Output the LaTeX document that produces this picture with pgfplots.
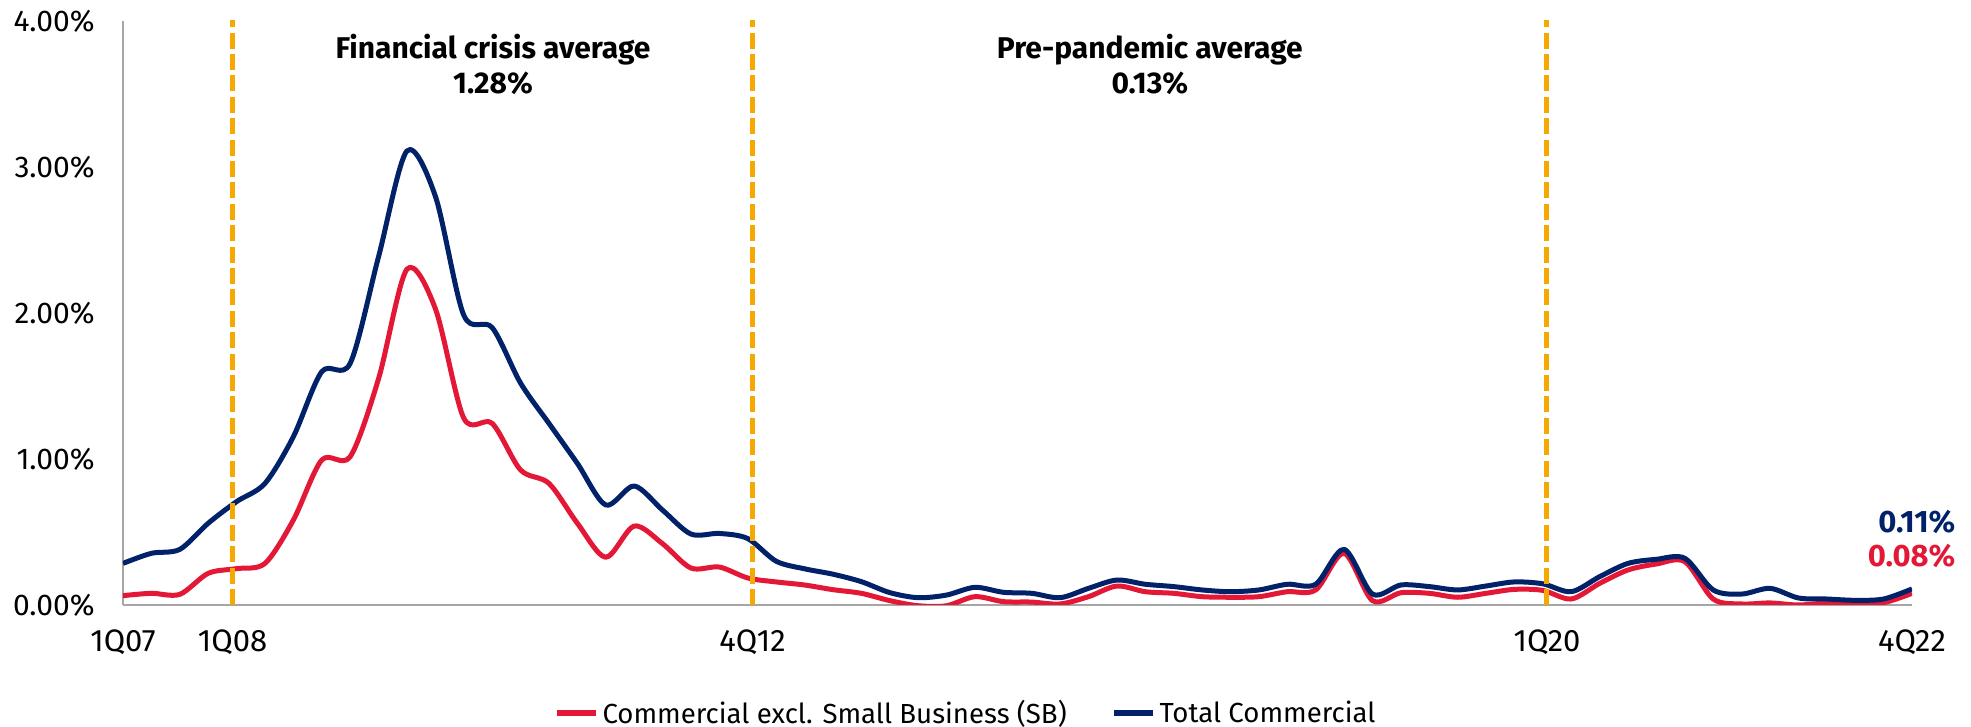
\documentclass[border=0pt]{standalone}
\usepackage{fontspec}
\setmainfont{Fira Sans}
\usepackage{pgfplots}
\pgfplotsset{compat=1.18}
\usepackage{pgfplotstable}
\definecolor{bred}{HTML}{E31837}
\definecolor{bnavy}{HTML}{012169}
\definecolor{borange}{HTML}{F5A800}
\definecolor{axisgray}{HTML}{A6A6A6}

\pgfplotstableread{
i red blue
0 0.064 0.285
1 0.080 0.354
2 0.073 0.381
3 0.217 0.560
4 0.249 0.708
5 0.285 0.833
6 0.582 1.153
7 0.993 1.598
8 1.016 1.655
9 1.550 2.386
10 2.300 3.110
11 2.030 2.800
12 1.280 1.985
13 1.244 1.900
14 0.925 1.520
15 0.833 1.244
16 0.560 0.970
17 0.327 0.685
18 0.541 0.815
19 0.420 0.650
20 0.253 0.486
21 0.260 0.490
22 0.185 0.455
23 0.158 0.300
24 0.137 0.248
25 0.105 0.211
26 0.080 0.160
27 0.030 0.085
28 -0.005 0.050
29 -0.005 0.068
30 0.057 0.121
31 0.023 0.087
32 0.020 0.080
33 0.007 0.050
34 0.057 0.114
35 0.130 0.171
36 0.091 0.142
37 0.080 0.126
38 0.057 0.103
39 0.053 0.091
40 0.057 0.103
41 0.091 0.142
42 0.103 0.142
43 0.354 0.381
44 0.030 0.075
45 0.084 0.137
46 0.080 0.126
47 0.053 0.103
48 0.080 0.130
49 0.107 0.158
50 0.100 0.145
51 0.041 0.091
52 0.148 0.194
53 0.240 0.285
54 0.281 0.313
55 0.297 0.320
56 0.041 0.103
57 0.007 0.075
58 0.014 0.114
59 0.000 0.048
60 0.014 0.041
61 0.014 0.032
62 0.016 0.041
63 0.080 0.110
}\datatable

\begin{document}
\begin{tikzpicture}
\begin{axis}[
  scale only axis,
  width=894.5pt, height=292pt,
  xmin=0, xmax=63, ymin=0, ymax=4,
  axis x line=bottom, axis y line=left,
  axis line style={draw=axisgray, line width=1pt, -},
  xtick={0,3.86,22.17,50.15,63},
  xticklabels={1Q07,1Q08,4Q12,1Q20,4Q22},
  ytick={0,1,2,3,4},
  yticklabels={0.00\%,1.00\%,2.00\%,3.00\%,4.00\%},
  tick style={draw=none},
  major tick length=0pt,
  xticklabel style={anchor=north, inner sep=0pt, yshift=-12pt, font=\fontsize{15.5}{17}\selectfont},
  yticklabel style={anchor=east, inner sep=0pt, xshift=-14pt, font=\fontsize{15}{17}\selectfont},
  clip mode=individual,
  legend columns=2,
  legend cell align=left,
  legend style={draw=none, fill=none, at={(0.4715,-0.185)}, anchor=center,
    font=\fontsize{13.8}{15}\selectfont,
    /tikz/every even column/.append style={column sep=20pt},
    nodes={inner sep=2pt}},
  legend image code/.code={\draw[#1, line width=3pt] (0pt,0pt) -- (19.5pt,0pt);},
]
\addplot[bred, line width=2.5pt, smooth, line join=round] table[x=i, y=red] {\datatable};
\addlegendentry{Commercial excl. Small Business (SB)}
\addplot[bnavy, line width=2.5pt, smooth, line join=round] table[x=i, y=blue] {\datatable};
\addlegendentry{Total Commercial}

\draw[borange, line width=2.5pt, dash pattern=on 8pt off 2.7pt] (axis cs:3.86,0) -- (axis cs:3.86,4.01);
\draw[borange, line width=2.5pt, dash pattern=on 8pt off 2.7pt] (axis cs:22.17,0) -- (axis cs:22.17,4.01);
\draw[borange, line width=2.5pt, dash pattern=on 8pt off 2.7pt] (axis cs:50.14,0) -- (axis cs:50.14,4.01);

\node[align=center, font=\bfseries\fontsize{15}{17.8}\selectfont] at (axis cs:13.03,3.702) {Financial crisis average\\1.28\%};
\node[align=center, font=\bfseries\fontsize{15}{17.8}\selectfont] at (axis cs:36.16,3.702) {Pre-pandemic average\\0.13\%};

\node[anchor=east, inner sep=0pt, text=bnavy, font=\bfseries\fontsize{15.5}{17}\selectfont] at (axis cs:64.54,0.568) {0.11\%};
\node[anchor=east, inner sep=0pt, text=bred, font=\bfseries\fontsize{15.5}{17}\selectfont] at (axis cs:64.54,0.336) {0.08\%};
\end{axis}
\pgfresetboundingbox
\useasboundingbox (-61.5pt,-61pt) rectangle (924pt,302.5pt);
\end{tikzpicture}
\end{document}
